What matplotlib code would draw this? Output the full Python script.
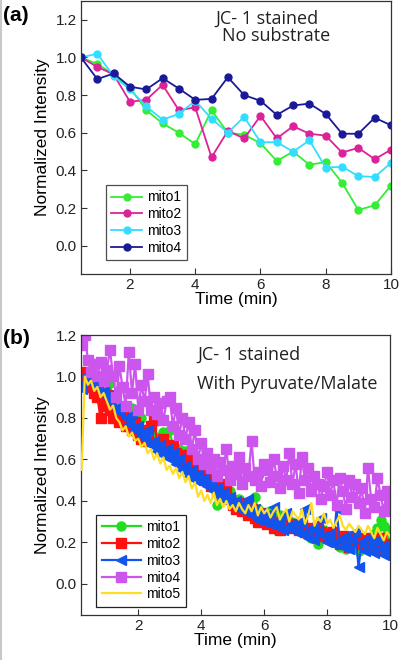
import numpy as np
import matplotlib
matplotlib.use("Agg")
import matplotlib.pyplot as plt
from matplotlib.lines import Line2D

# -*- data : panel (a), no substrate -*-
time_a = [0.5, 1.0, 1.5, 2.0, 2.5, 3.0, 3.5, 4.0, 4.5, 5.0,
          5.5, 6.0, 6.5, 7.0, 7.5, 8.0, 8.5, 9.0, 9.5, 10.0]
a_mito1 = [1.00, 0.966, 0.91, 0.84, 0.72, 0.65, 0.60, 0.54, 0.72, 0.60,
           0.59, 0.545, 0.45, 0.50, 0.43, 0.445, 0.335, 0.19, 0.215, 0.32]
a_mito2 = [1.00, 0.95, 0.91, 0.765, 0.775, 0.855, 0.72, 0.735, 0.47, 0.61,
           0.57, 0.69, 0.57, 0.635, 0.595, 0.585, 0.495, 0.52, 0.46, 0.51]
a_mito3 = [1.00, 1.02, 0.90, 0.83, 0.74, 0.67, 0.70, 0.77, 0.675, 0.60,
           0.685, 0.55, 0.55, 0.50, 0.56, 0.415, 0.42, 0.37, 0.365, 0.44]
a_mito4 = [1.00, 0.885, 0.915, 0.845, 0.83, 0.89, 0.835, 0.775, 0.78, 0.895,
           0.80, 0.77, 0.695, 0.745, 0.755, 0.70, 0.595, 0.595, 0.68, 0.64]

# -*- data : panel (b), pyruvate/malate -*-
time_b = [0.2, 0.3, 0.4, 0.5, 0.6, 0.7, 0.8, 0.9, 1.0,
          1.1, 1.2, 1.3, 1.4, 1.5, 1.6, 1.7, 1.8, 1.9, 2.0,
          2.1, 2.2, 2.3, 2.4, 2.5, 2.6, 2.7, 2.8, 2.9, 3.0,
          3.1, 3.2, 3.3, 3.4, 3.5, 3.6, 3.7, 3.8, 3.9, 4.0,
          4.1, 4.2, 4.3, 4.4, 4.5, 4.6, 4.7, 4.8, 4.9, 5.0,
          5.1, 5.2, 5.3, 5.4, 5.5, 5.6, 5.7, 5.8, 5.9, 6.0,
          6.1, 6.2, 6.3, 6.4, 6.5, 6.6, 6.7, 6.8, 6.9, 7.0,
          7.1, 7.2, 7.3, 7.4, 7.5, 7.6, 7.7, 7.8, 7.9, 8.0,
          8.1, 8.2, 8.3, 8.4, 8.5, 8.6, 8.7, 8.8, 8.9, 9.0,
          9.1, 9.2, 9.3, 9.4, 9.5, 9.6, 9.7, 9.8, 9.9, 10.0]
b_mito1 = [0.97, 1.00, 0.98, 0.96, 0.99, 0.95, 0.93, 0.96, 0.92,
           0.97, 0.88, 0.84, 0.86, 0.80, 0.83, 0.78, 0.85, 0.76, 0.74,
           0.80, 0.73, 0.70, 0.72, 0.68, 0.71, 0.66, 0.73, 0.64, 0.74,
           0.66, 0.62, 0.65, 0.60, 0.64, 0.58, 0.57, 0.55, 0.56, 0.52,
           0.50, 0.53, 0.48, 0.46, 0.38, 0.47, 0.44, 0.42, 0.45, 0.40,
           0.38, 0.41, 0.36, 0.37, 0.39, 0.35, 0.42, 0.36, 0.33, 0.34,
           0.32, 0.35, 0.30, 0.26, 0.33, 0.29, 0.31, 0.27, 0.30, 0.28,
           0.26, 0.29, 0.25, 0.27, 0.22, 0.24, 0.19, 0.23, 0.26, 0.22,
           0.24, 0.20, 0.22, 0.18, 0.21, 0.17, 0.23, 0.20, 0.19, 0.16,
           0.21, 0.18, 0.22, 0.20, 0.24, 0.27, 0.31, 0.28, 0.24, 0.26]
b_mito2 = [1.02, 1.00, 0.97, 0.95, 0.92, 0.90, 0.80, 0.86, 0.91,
           0.84, 0.80, 0.83, 0.78, 0.81, 0.76, 0.79, 0.74, 0.78, 0.72,
           0.70, 0.74, 0.69, 0.76, 0.79, 0.68, 0.65, 0.70, 0.66, 0.64,
           0.67, 0.63, 0.60, 0.62, 0.58, 0.62, 0.55, 0.57, 0.52, 0.54,
           0.50, 0.52, 0.47, 0.49, 0.45, 0.48, 0.43, 0.46, 0.41, 0.38,
           0.36, 0.39, 0.35, 0.37, 0.33, 0.36, 0.32, 0.30, 0.34, 0.31,
           0.29, 0.32, 0.27, 0.30, 0.26, 0.28, 0.30, 0.27, 0.29, 0.28,
           0.26, 0.29, 0.25, 0.27, 0.24, 0.26, 0.28, 0.25, 0.23, 0.24,
           0.22, 0.25, 0.21, 0.19, 0.23, 0.20, 0.18, 0.22, 0.20, 0.21,
           0.19, 0.22, 0.18, 0.21, 0.20, 0.17, 0.22, 0.19, 0.18, 0.17]
b_mito3 = [0.94, 1.00, 0.98, 1.02, 0.97, 0.95, 0.99, 0.93, 0.90,
           0.88, 0.92, 0.85, 0.83, 0.86, 0.80, 0.77, 0.82, 0.74, 0.76,
           0.72, 0.70, 0.74, 0.67, 0.69, 0.64, 0.67, 0.62, 0.65, 0.60,
           0.63, 0.58, 0.60, 0.55, 0.57, 0.52, 0.55, 0.50, 0.53, 0.49,
           0.51, 0.47, 0.49, 0.45, 0.46, 0.42, 0.44, 0.40, 0.42, 0.38,
           0.40, 0.36, 0.38, 0.35, 0.41, 0.33, 0.36, 0.31, 0.34, 0.30,
           0.33, 0.29, 0.37, 0.28, 0.31, 0.26, 0.34, 0.27, 0.29, 0.25,
           0.30, 0.24, 0.36, 0.22, 0.27, 0.21, 0.25, 0.32, 0.23, 0.20,
           0.24, 0.19, 0.36, 0.21, 0.18, 0.23, 0.17, 0.21, 0.25, 0.08,
           0.20, 0.16, 0.22, 0.19, 0.15, 0.21, 0.17, 0.14, 0.19, 0.13]
b_mito4 = [1.15, 1.20, 1.08, 1.02, 1.06, 1.00, 1.07, 0.98, 1.03,
           1.13, 1.00, 0.90, 1.05, 0.95, 0.86, 1.12, 0.92, 1.06, 0.84,
           0.96, 0.88, 1.01, 0.84, 0.90, 0.82, 0.87, 0.79, 0.88, 0.90,
           0.76, 0.85, 0.72, 0.80, 0.70, 0.78, 0.65, 0.74, 0.60, 0.68,
           0.58, 0.63, 0.56, 0.60, 0.52, 0.59, 0.55, 0.65, 0.50, 0.57,
           0.53, 0.61, 0.48, 0.56, 0.52, 0.69, 0.50, 0.54, 0.47, 0.58,
           0.55, 0.49, 0.60, 0.52, 0.46, 0.57, 0.50, 0.63, 0.48, 0.58,
           0.44, 0.61, 0.50, 0.56, 0.45, 0.52, 0.48, 0.41, 0.47, 0.54,
           0.43, 0.50, 0.38, 0.51, 0.45, 0.36, 0.50, 0.42, 0.48, 0.39,
           0.46, 0.34, 0.56, 0.41, 0.37, 0.51, 0.43, 0.35, 0.45, 0.40]
b_mito5 = [0.55, 1.00, 0.96, 0.98, 0.93, 0.95, 0.90, 0.92, 0.88,
           0.84, 0.86, 0.80, 0.78, 0.74, 0.76, 0.71, 0.73, 0.69, 0.70,
           0.66, 0.68, 0.63, 0.65, 0.60, 0.63, 0.58, 0.61, 0.55, 0.57,
           0.53, 0.56, 0.51, 0.54, 0.49, 0.52, 0.46, 0.49, 0.42, 0.45,
           0.40, 0.43, 0.39, 0.44, 0.38, 0.41, 0.37, 0.40, 0.36, 0.38,
           0.35, 0.39, 0.36, 0.34, 0.38, 0.35, 0.39, 0.33, 0.37, 0.34,
           0.36, 0.32, 0.35, 0.37, 0.31, 0.34, 0.36, 0.30, 0.35, 0.33,
           0.31, 0.36, 0.29, 0.33, 0.39, 0.28, 0.32, 0.30, 0.34, 0.29,
           0.31, 0.27, 0.30, 0.33, 0.28, 0.26, 0.29, 0.27, 0.25, 0.28,
           0.26, 0.24, 0.28, 0.25, 0.22, 0.27, 0.24, 0.21, 0.25, 0.23]

x_ticks = [2, 4, 6, 8, 10]
y_ticks = [0.0, 0.2, 0.4, 0.6, 0.8, 1.0, 1.2]

# -*- style -*-
plt.rcParams['font.family'] = ['Liberation Sans', 'DejaVu Sans']
note_font = 'Open Sans'
tick_color = '#222222'

fig = plt.figure(figsize=(4.0, 6.6), dpi=100)
ax_a = fig.add_axes([0.2025, 0.5848, 0.775, 0.4137])
ax_b = fig.add_axes([0.2025, 0.0682, 0.7725, 0.4242])

# faint frame line on the left edge
fig.add_artist(Line2D([0.002, 0.002], [0, 1], color='#c8c8c8', lw=1.5,
                      transform=fig.transFigure))


def style_axes(ax, ylim, xlim):
    ax.set_xlim(*xlim)
    ax.set_ylim(*ylim)
    ax.set_xticks(x_ticks)
    ax.set_yticks(y_ticks)
    ax.set_yticklabels(['%.1f' % v for v in y_ticks])
    ax.tick_params(direction='in', length=4, width=0.8, labelsize=11,
                   labelcolor=tick_color, color='#333333', pad=3)
    for sp in ax.spines.values():
        sp.set_color('#333333')
        sp.set_linewidth(0.9)
    ax.set_xlabel('Time (min)', fontsize=12.5, labelpad=0)
    ax.set_ylabel('Normalized Intensity', fontsize=12.5, labelpad=4)


# -*- panel (a) -*-
col_a = ['#33ee33', '#dd2299', '#33ddff', '#1a1a99']
series_a = [a_mito1, a_mito2, a_mito3, a_mito4]
for i, ys in enumerate(series_a):
    ax_a.plot(time_a, ys, color=col_a[i], marker='o', ms=5, lw=1.3,
              label='mito%d' % (i + 1))
style_axes(ax_a, (-0.15, 1.30), (0.5, 10))
ax_a.text(0.60, 0.935, 'JC- 1 stained', transform=ax_a.transAxes,
          ha='center', va='center', fontsize=13, family=note_font, color='#222222')
ax_a.text(0.63, 0.87, 'No substrate', transform=ax_a.transAxes,
          ha='center', va='center', fontsize=13, family=note_font, color='#222222')
leg_a = ax_a.legend(loc='lower left', bbox_to_anchor=(0.08, 0.05), fontsize=10,
                    frameon=True, fancybox=False, handlelength=2.2, borderaxespad=0,
                    borderpad=0.4, labelspacing=0.2, handletextpad=0.4)
leg_a.get_frame().set_edgecolor('#222222')
leg_a.get_frame().set_linewidth(0.9)

# -*- panel (b) -*-
col_b = ['#22dd22', '#ff1111', '#1155ee', '#cc55ee', '#ffdd22']
mk_b = ['o', 's', '<', 's', None]
series_b = [b_mito1, b_mito2, b_mito3, b_mito4, b_mito5]
for i, ys in enumerate(series_b):
    ax_b.plot(time_b, ys, color=col_b[i], marker=mk_b[i], ms=6.5, lw=1.6,
              label='mito%d' % (i + 1), zorder=2 + (i == 4) * 3)
style_axes(ax_b, (-0.15, 1.19), (0.18, 10))
ax_b.text(0.375, 0.93, 'JC- 1 stained', transform=ax_b.transAxes,
          ha='left', va='center', fontsize=13, family=note_font, color='#222222')
ax_b.text(0.375, 0.825, 'With Pyruvate/Malate', transform=ax_b.transAxes,
          ha='left', va='center', fontsize=13, family=note_font, color='#222222')
leg_b = ax_b.legend(loc='lower left', bbox_to_anchor=(0.049, 0.029), fontsize=10,
                    frameon=True, fancybox=False, handlelength=2.8, framealpha=1,
                    borderaxespad=0, borderpad=0.4, labelspacing=0.2,
                    handletextpad=0.4)
leg_b.get_frame().set_edgecolor('#222222')
leg_b.get_frame().set_linewidth(0.9)

# panel labels
fig.text(0.008, 0.977, '(a)', fontsize=15, fontweight='bold', va='center', ha='left')
fig.text(0.008, 0.487, '(b)', fontsize=15, fontweight='bold', va='center', ha='left')

fig.savefig('out.png', dpi=100)
